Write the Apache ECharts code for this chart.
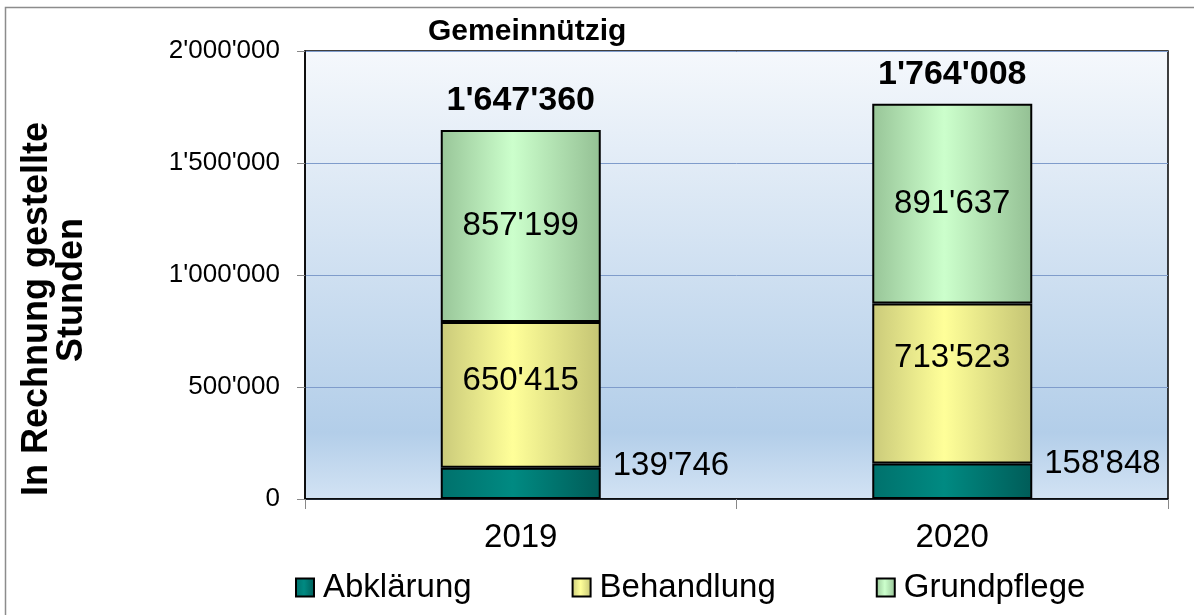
<!DOCTYPE html>
<html>
<head>
<meta charset="utf-8">
<script src="https://cdn.jsdelivr.net/npm/echarts@6/dist/echarts.min.js"></script>
<style>
  html, body { margin: 0; padding: 0; background: #fff; }
  #main { width: 1194px; height: 615px; }
</style>
</head>
<body>
<div id="main"></div>
<script>
// Daten
var years = ["2019", "2020"];
var abklaerung = [139746, 158848];
var behandlung = [650415, 713523];
var grundpflege = [857199, 891637];
var totals = [1647360, 1764008];
var yTicks = [0, 500000, 1000000, 1500000, 2000000];

var FONT = "Liberation Sans, Arial, sans-serif";

// Tausendertrennzeichen mit Apostroph
function fmt(v) {
  return String(v).replace(/\B(?=(\d{3})+(?!\d))/g, "'");
}

function barGrad(edge, mid, edge2) {
  return new echarts.graphic.LinearGradient(0, 0, 1, 0, [
    { offset: 0, color: edge },
    { offset: 0.45, color: mid },
    { offset: 1, color: edge2 }
  ]);
}

var myChart = echarts.init(document.getElementById("main"));

var segLabel = {
  show: true,
  position: "inside",
  fontFamily: FONT,
  fontSize: 33,
  color: "#000",
  formatter: function (p) { return fmt(p.value); }
};

// Behandlung-Labels sitzen im Original etwas oberhalb der Mitte
var behShift = [-14, -26];
var behData = behandlung.map(function (v, i) {
  return { value: v, label: { offset: [0, behShift[i]] } };
});

var option = {
  animation: false,
  title: {
    text: "Gemeinnützig",
    left: 423,
    top: 12,
    textStyle: { fontFamily: FONT, fontSize: 30, fontWeight: "bold", color: "#000" }
  },
  legend: {
    data: ["Abklärung", "Behandlung", "Grundpflege"],
    left: 290,
    top: 566,
    icon: "rect",
    itemWidth: 18,
    itemHeight: 18,
    itemGap: 100,
    textStyle: { fontFamily: FONT, fontSize: 33, color: "#000", padding: [0, 0, 0, 4] }
  },
  grid: {
    show: true,
    left: 305,
    right: 26,
    top: 51,
    bottom: 116,
    borderColor: "#000",
    borderWidth: 1.5,
    backgroundColor: new echarts.graphic.LinearGradient(0, 0, 0, 1, [
      { offset: 0, color: "#f5f8fc" },
      { offset: 0.85, color: "#b3cee9" },
      { offset: 1, color: "#d3e3f4" }
    ])
  },
  xAxis: {
    type: "category",
    data: years,
    axisLine: { lineStyle: { color: "#000", width: 1.5 } },
    axisTick: { show: true, length: 10, lineStyle: { color: "#888" } },
    axisLabel: { fontFamily: FONT, fontSize: 33, color: "#000", margin: 22 }
  },
  yAxis: {
    type: "value",
    min: yTicks[0],
    max: yTicks[yTicks.length - 1],
    interval: yTicks[1] - yTicks[0],
    axisLine: { show: true, lineStyle: { color: "#000", width: 1.5 } },
    axisTick: { show: true, length: 8, lineStyle: { color: "#888" } },
    splitLine: { show: true, lineStyle: { color: "#7f9ccb", width: 1 } },
    axisLabel: {
      fontFamily: FONT, fontSize: 26, color: "#000", margin: 25,
      formatter: function (v) { return fmt(v); }
    }
  },
  graphic: [
    {
      type: "rect",
      shape: { x: 5.5, y: 7.5, width: 1400, height: 800 },
      style: { fill: "none", stroke: "#8c8c8c", lineWidth: 1.5 },
      z: -10
    },
    {
      type: "text",
      x: 37, y: 309,
      rotation: Math.PI / 2,
      style: {
        text: "In Rechnung gestellte",
        fontFamily: FONT, fontSize: 36, fontWeight: "bold", fill: "#000",
        align: "center", verticalAlign: "middle"
      }
    },
    {
      type: "text",
      x: 72, y: 290,
      rotation: Math.PI / 2,
      style: {
        text: "Stunden",
        fontFamily: FONT, fontSize: 36, fontWeight: "bold", fill: "#000",
        align: "center", verticalAlign: "middle"
      }
    }
  ],
  series: [
    {
      name: "Abklärung",
      type: "bar",
      stack: "h",
      barWidth: 160,
      data: abklaerung,
      itemStyle: { color: barGrad("#00716c", "#008a82", "#005c58"), borderColor: "#000", borderWidth: 2 },
      label: {
        show: true,
        position: "right",
        distance: 12,
        offset: [0, -17],
        fontFamily: FONT,
        fontSize: 33,
        color: "#000",
        formatter: function (p) { return fmt(p.value); }
      }
    },
    {
      name: "Behandlung",
      type: "bar",
      stack: "h",
      data: behData,
      itemStyle: { color: barGrad("#caca7a", "#ffff99", "#c4c474"), borderColor: "#000", borderWidth: 2 },
      label: segLabel
    },
    {
      name: "Grundpflege",
      type: "bar",
      stack: "h",
      data: grundpflege,
      itemStyle: { color: barGrad("#98c598", "#ccffcc", "#94c094"), borderColor: "#000", borderWidth: 2 },
      label: segLabel
    },
    {
      // unsichtbare Serie nur fuer die Summen
      name: "Total",
      type: "bar",
      stack: "h",
      data: [0, 0],
      itemStyle: { color: "rgba(0,0,0,0)", borderWidth: 0 },
      label: {
        show: true,
        position: "top",
        distance: 12,
        fontFamily: FONT,
        fontSize: 34,
        fontWeight: "bold",
        color: "#000",
        formatter: function (p) { return fmt(totals[p.dataIndex]); }
      }
    }
  ]
};

myChart.setOption(option);
</script>
</body>
</html>
